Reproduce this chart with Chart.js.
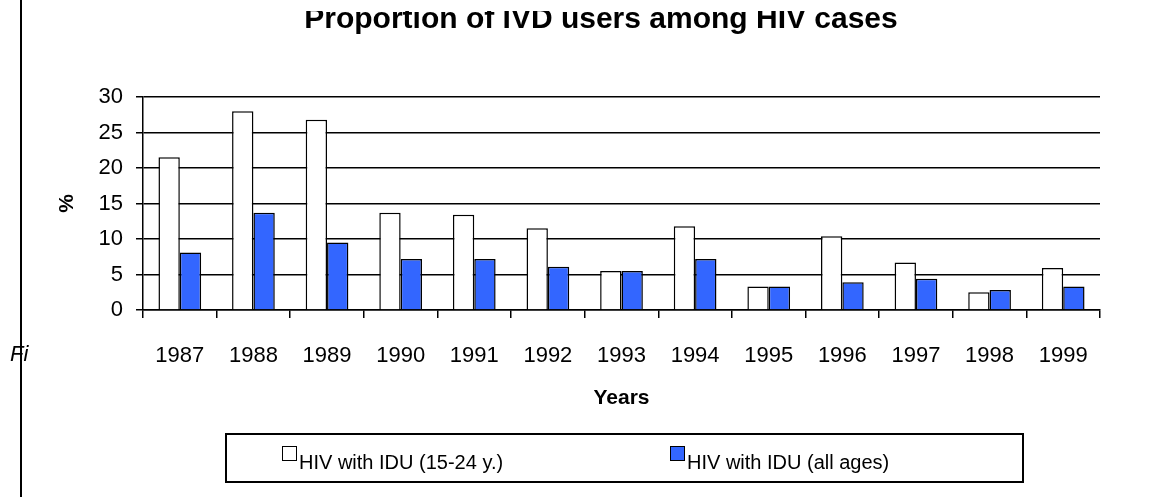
<!DOCTYPE html>
<html>
<head>
<meta charset="utf-8">
<script src="https://cdn.jsdelivr.net/npm/chart.js@4.4.1/dist/chart.umd.min.js"></script>
<style>
  body { margin: 0; background: #fff; font-family: "Liberation Sans", Arial, sans-serif; }
  #wrap { position: relative; width: 1174px; height: 497px; overflow: hidden; }
  /* canvas is a bit taller than the page and shifted up; the strip below hides the title top like the cropped scan */
  #chart { position: absolute; left: 0; top: -12px; }
  #crop { position: absolute; left: 30px; top: 0; width: 1144px; height: 11px; background: #fff; }
  #rule { position: absolute; left: 20px; top: 0; width: 2px; height: 497px; background: #000; }
  #fig { position: absolute; left: 10px; top: 342px; font-size: 22px; font-style: italic; line-height: 24px; }
  #legend { position: absolute; left: 225px; top: 433px; width: 795px; height: 46px; border: 2px solid #000; }
  #legend .box { position: absolute; top: 11px; width: 13px; height: 13px; border: 1.5px solid #000; }
  #legend .txt { position: absolute; top: 15px; font-size: 20px; line-height: 24px; white-space: nowrap; }
</style>
</head>
<body>
<div id="wrap">
  <canvas id="chart" width="1174" height="509"></canvas>
  <div id="crop"></div>
  <div id="fig">Fi</div>
  <div id="rule"></div>
  <div id="legend"></div>
</div>
<script>
const years = ['1987', '1988', '1989', '1990', '1991', '1992', '1993', '1994', '1995', '1996', '1997', '1998', '1999'];
const idu1524 = [21.5, 28.0, 26.8, 13.7, 13.4, 11.5, 5.5, 11.8, 3.3, 10.4, 6.7, 2.5, 5.9];
const iduAll = [8.1, 13.7, 9.5, 7.2, 7.2, 6.1, 5.5, 7.2, 3.3, 3.9, 4.4, 2.8, 3.3];
const seriesNames = ['HIV with IDU (15-24 y.)', 'HIV with IDU (all ages)'];
const seriesColors = ['#ffffff', '#3366ff'];

const font = 'Liberation Sans';

var ctx = document.getElementById('chart');
var chart = new Chart(ctx, {
  type: 'bar',
  data: {
    labels: years,
    datasets: [{
      label: seriesNames[0],
      data: idu1524,
      backgroundColor: seriesColors[0],
      borderColor: '#000',
      borderWidth: 1.5
    }, {
      label: seriesNames[1],
      data: iduAll,
      backgroundColor: seriesColors[1],
      borderColor: '#000',
      borderWidth: 1.5
    }]
  },
  options: {
    responsive: false,
    animation: false,
    layout: { padding: { left: 28, right: 0, top: 0, bottom: 67 } },
    datasets: { bar: { categoryPercentage: 0.58, barPercentage: 1.0 } },
    plugins: {
      legend: { display: false },
      tooltip: { enabled: false },
      title: {
        display: true,
        text: 'Proportion of IVD users among HIV cases',
        color: '#000',
        font: { family: font, size: 30, weight: 'bold' },
        padding: { top: 14, bottom: 59 }
      }
    },
    scales: {
      x: {
        afterFit: function (s) { s.height = 120; },
        grid: { drawOnChartArea: false, color: '#000', lineWidth: 1.5, tickLength: 8 },
        border: { color: '#000', width: 1.5 },
        ticks: { color: '#000', padding: 25, font: { family: font, size: 22 } },
        title: {
          display: true, text: 'Years', color: '#000',
          font: { family: font, size: 21, weight: 'bold' },
          padding: { top: 0, bottom: 19 }
        }
      },
      y: {
        min: 0, max: 30,
        afterFit: function (s) { s.width = 115; },
        grid: { color: '#000', lineWidth: 1.5, tickLength: 7 },
        border: { color: '#000', width: 1.5 },
        ticks: { stepSize: 5, color: '#000', padding: 13, font: { family: font, size: 22 } },
        title: {
          display: true, text: '%', color: '#000',
          font: { family: font, size: 21, weight: 'bold' },
          padding: { top: 27, bottom: 0 }
        }
      },
      // empty right margin so the title centres like the original
      spacer: {
        position: 'right',
        afterFit: function (s) { s.width = 74; },
        grid: { drawOnChartArea: false, drawTicks: false },
        border: { display: false },
        ticks: { display: false }
      }
    }
  }
});

// legend box below the axis title
var legend = document.getElementById('legend');
var itemLeft = [55, 443];
chart.data.datasets.forEach(function (ds, i) {
  var box = document.createElement('div');
  box.className = 'box';
  box.style.left = itemLeft[i] + 'px';
  box.style.background = ds.backgroundColor;
  legend.appendChild(box);
  var txt = document.createElement('div');
  txt.className = 'txt';
  txt.style.left = (itemLeft[i] + 17) + 'px';
  txt.textContent = ds.label;
  legend.appendChild(txt);
});
</script>
</body>
</html>
